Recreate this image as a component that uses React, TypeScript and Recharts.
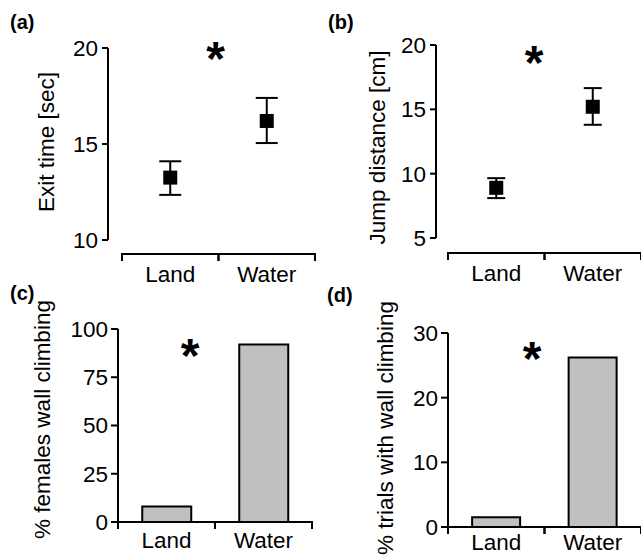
import React from "react";
import { BarChart, Bar, ScatterChart, Scatter, ErrorBar, XAxis, YAxis } from "recharts";

const FONT = '"Liberation Sans", Arial, Helvetica, sans-serif';
const FS = 22.5;

const groups = ["Land", "Water"];

// (a) exit time, mean and error bar ends
const exitMean = [13.25, 16.2];
const exitLow = [12.35, 15.05];
const exitHigh = [14.1, 17.4];
const exitTicks = [10, 15, 20];

// (b) jump distance
const jumpMean = [8.9, 15.2];
const jumpLow = [8.1, 13.8];
const jumpHigh = [9.65, 16.65];
const jumpTicks = [5, 10, 15, 20];

// (c) % females wall climbing
const femalesClimbing = [8, 92];
const femalesTicks = [0, 25, 50, 75, 100];

// (d) % trials with wall climbing
const trialsClimbing = [1.5, 26.2];
const trialsTicks = [0, 10, 20, 30];

function GroupTick(props: any) {
  const { x, y, payload, width, pad = 0, gap = 0, line = false, textDy = 28 } = props;
  const half = (Number(width) - pad) / 4;
  const ly = y + gap;
  const v = payload.value;
  const name = typeof v === "number" ? groups[Math.floor(v)] : v;
  return (
    <g>
      {line && <line x1={x - half} x2={x + half} y1={ly} y2={ly} stroke="#000" strokeWidth={2} />}
      <line x1={x - half} x2={x - half} y1={ly - 1} y2={ly + 7} stroke="#000" strokeWidth={2} />
      <line x1={x + half} x2={x + half} y1={ly - 1} y2={ly + 7} stroke="#000" strokeWidth={2} />
      <text x={x} y={ly + textDy} textAnchor="middle" fontSize={FS} fill="#000" fontFamily={FONT}>
        {name}
      </text>
    </g>
  );
}

const yTitle = (text: string, cx: number, shift: number) => (props: any) => {
  const vb = props.viewBox || { x: 0, y: 0, height: 0 };
  const x = vb.x + cx;
  const cy = vb.y + vb.height / 2 + shift;
  return (
    <text
      x={x}
      y={cy}
      transform={`rotate(-90 ${x} ${cy})`}
      textAnchor="middle"
      dominantBaseline="central"
      fontSize={FS}
      fill="#000"
      fontFamily={FONT}
    >
      {text}
    </text>
  );
};

const Square = (p: any) => <rect x={p.cx - 7} y={p.cy - 7} width={14} height={14} fill="#000" />;

const axisStroke = { stroke: "#000", strokeWidth: 2 };
const tickText = { fill: "#000", fontSize: FS, fontFamily: FONT };

function MeanPanel(props: any) {
  const { mean, low, high, ticks, title, titleX, titleShift, width, height, margin, yWidth, xHeight, pad, gap, cap } = props;
  const data = groups.map((g, i) => ({
    x: i + 0.5,
    y: mean[i],
    err: [mean[i] - low[i], high[i] - mean[i]],
  }));
  return (
    <ScatterChart width={width} height={height} margin={margin}>
      <XAxis
        type="number"
        dataKey="x"
        domain={[0, 2]}
        ticks={[0.5, 1.5]}
        interval={0}
        padding={{ left: pad }}
        axisLine={false}
        tickLine={false}
        tickSize={0}
        tickMargin={0}
        height={xHeight}
        tick={<GroupTick pad={pad} gap={gap} line />}
      />
      <YAxis
        type="number"
        dataKey="y"
        domain={[ticks[0], ticks[ticks.length - 1]]}
        ticks={ticks}
        interval={0}
        width={yWidth}
        tickSize={6}
        tickMargin={4}
        axisLine={axisStroke}
        tickLine={axisStroke}
        tick={tickText}
        label={yTitle(title, titleX, titleShift)}
      />
      <Scatter data={data} shape={<Square />} isAnimationActive={false}>
        <ErrorBar dataKey="err" direction="y" width={cap} stroke="#000" strokeWidth={2} isAnimationActive={false} />
      </Scatter>
    </ScatterChart>
  );
}

function BarPanel(props: any) {
  const { values, ticks, title, titleX, titleShift, width, height, margin, yWidth, xHeight, textDy } = props;
  const data = groups.map((g, i) => ({ name: g, value: values[i] }));
  return (
    <BarChart width={width} height={height} margin={margin} data={data} barCategoryGap="25%">
      <XAxis
        dataKey="name"
        axisLine={axisStroke}
        tickLine={false}
        tickSize={0}
        tickMargin={0}
        height={xHeight}
        interval={0}
        tick={<GroupTick textDy={textDy} />}
      />
      <YAxis
        type="number"
        domain={[ticks[0], ticks[ticks.length - 1]]}
        ticks={ticks}
        interval={0}
        width={yWidth}
        tickSize={7}
        tickMargin={3}
        axisLine={axisStroke}
        tickLine={axisStroke}
        tick={tickText}
        label={yTitle(title, titleX, titleShift)}
      />
      <Bar dataKey="value" fill="#c0c0c0" stroke="#000" strokeWidth={2} isAnimationActive={false} />
    </BarChart>
  );
}

const panelLetters = [
  { t: "(a)", x: 10, y: 29 },
  { t: "(b)", x: 328, y: 29 },
  { t: "(c)", x: 10, y: 300 },
  { t: "(d)", x: 327, y: 302 },
];
const stars = [
  { x: 215.5, y: 48 },
  { x: 534, y: 52 },
  { x: 190, y: 345 },
  { x: 532, y: 348 },
];

export default function App() {
  return (
    <div
      style={{
        position: "absolute",
        left: 0,
        top: 0,
        width: 641,
        height: 555,
        background: "#fff",
        overflow: "hidden",
        fontFamily: FONT,
      }}
    >
      <div style={{ position: "absolute", left: 0, top: 0 }}>
        <MeanPanel
          mean={exitMean}
          low={exitLow}
          high={exitHigh}
          ticks={exitTicks}
          title="Exit time [sec]"
          titleX={46}
          titleShift={-2}
          width={320}
          height={292}
          margin={{ top: 48, right: 5, bottom: 0, left: 0 }}
          yWidth={108}
          xHeight={52}
          pad={14}
          gap={14}
          cap={11}
        />
      </div>
      <div style={{ position: "absolute", left: 320, top: 0 }}>
        <MeanPanel
          mean={jumpMean}
          low={jumpLow}
          high={jumpHigh}
          ticks={jumpTicks}
          title="Jump distance [cm]"
          titleX={57}
          titleShift={6}
          width={321}
          height={292}
          margin={{ top: 45, right: 0, bottom: 0, left: 0 }}
          yWidth={116}
          xHeight={54}
          pad={12}
          gap={15}
          cap={9}
        />
      </div>
      <div style={{ position: "absolute", left: 0, top: 280 }}>
        <BarPanel
          values={femalesClimbing}
          ticks={femalesTicks}
          title="% females wall climbing"
          titleX={42}
          titleShift={-6}
          width={320}
          height={275}
          margin={{ top: 49, right: 8, bottom: 0, left: 0 }}
          yWidth={118}
          xHeight={33}
          textDy={26}
        />
      </div>
      <div style={{ position: "absolute", left: 320, top: 280 }}>
        <BarPanel
          values={trialsClimbing}
          ticks={trialsTicks}
          title="% trials with wall climbing"
          titleX={65}
          titleShift={-2}
          width={321}
          height={275}
          margin={{ top: 53, right: 0, bottom: 0, left: 0 }}
          yWidth={128}
          xHeight={28}
          textDy={23}
        />
      </div>
      <svg
        width={641}
        height={555}
        style={{ position: "absolute", left: 0, top: 0, pointerEvents: "none" }}
      >
        {panelLetters.map((p) => (
          <text key={p.t} x={p.x} y={p.y} fontSize={20} fontWeight="bold" fill="#000" fontFamily={FONT}>
            {p.t}
          </text>
        ))}
        {stars.map((s, i) => (
          <text key={i} x={s.x} y={s.y + 27} textAnchor="middle" fontSize={48} fontWeight="bold" fill="#000" fontFamily={FONT}>
            *
          </text>
        ))}
      </svg>
    </div>
  );
}
